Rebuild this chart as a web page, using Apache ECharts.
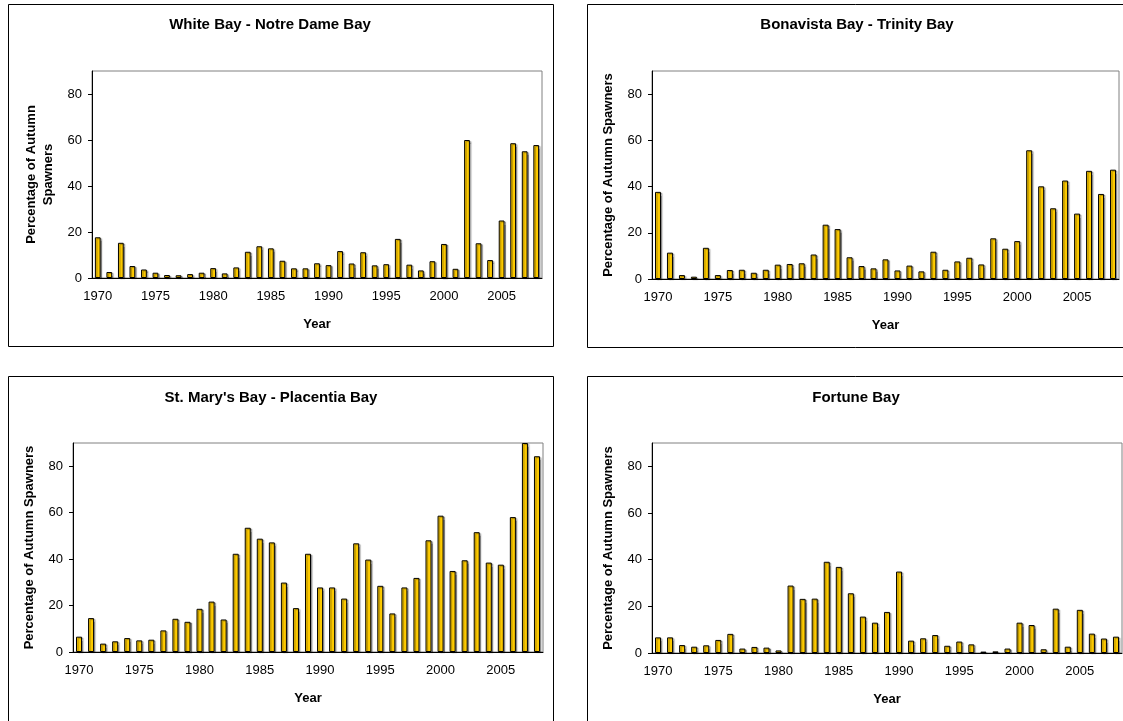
<!DOCTYPE html>
<html>
<head>
<meta charset="utf-8">
<title>Autumn Spawners</title>
<script src="https://cdn.jsdelivr.net/npm/echarts@6/dist/echarts.min.js"></script>
<style>
  html, body { margin: 0; padding: 0; background: #fff; }
  #chart { width: 1123px; height: 721px; }
</style>
</head>
<body>
<div id="chart"></div>
<script>
// years 1970 - 2008
var years = [];
for (var y = 1970; y <= 2008; y++) years.push(String(y));

var yTicks = [0, 20, 40, 60, 80];

var whiteBay = [17.7, 2.6, 15.3, 5.2, 3.7, 2.3, 1.3, 1.2, 1.7, 2.3,
  4.3, 2.0, 4.6, 11.4, 13.8, 12.9, 7.5, 4.2, 4.2, 6.4,
  5.6, 11.7, 6.3, 11.2, 5.5, 6.0, 17.0, 5.8, 3.3, 7.3,
  14.8, 4.0, 60.0, 15.1, 7.8, 25.0, 58.6, 55.1, 57.8];

var bonavista = [37.7, 11.4, 1.7, 1.0, 13.5, 1.7, 3.9, 4.0, 2.7, 4.0,
  6.2, 6.5, 6.8, 10.6, 23.5, 21.6, 9.4, 5.6, 4.6, 8.5,
  3.7, 5.8, 3.3, 11.8, 4.0, 7.6, 9.2, 6.3, 17.6, 13.1,
  16.4, 55.7, 40.1, 30.6, 42.6, 28.3, 46.8, 36.8, 47.3];

var stMarys = [6.6, 14.6, 3.6, 4.6, 6.0, 5.0, 5.3, 9.3, 14.3, 13.0,
  18.6, 21.7, 14.0, 42.3, 53.5, 48.8, 47.2, 29.9, 18.9, 42.3,
  27.8, 27.8, 23.0, 46.8, 39.8, 28.5, 16.6, 27.8, 31.9, 48.1,
  58.7, 34.9, 39.5, 51.6, 38.5, 37.6, 58.1, 90, 84.3];

var fortune = [6.7, 6.7, 3.4, 2.7, 3.3, 5.6, 8.2, 1.9, 2.6, 2.3,
  1.1, 28.9, 23.2, 23.3, 39.1, 36.9, 25.6, 15.6, 13.0, 17.6,
  34.9, 5.3, 6.3, 7.7, 3.1, 4.9, 3.7, 0.6, 0.7, 1.9,
  13.0, 12.0, 1.6, 19.0, 2.7, 18.5, 8.3, 6.2, 7.0];

var panels = [
  { title: 'White Bay - Notre Dame Bay', data: whiteBay, yName: 'Percentage of Autumn\nSpawners',
    grid: { left: 92, top: 71, width: 450, height: 207 }, box: [8, 4, 545, 342], tx: 270, ty: 25 },
  { title: 'Bonavista Bay - Trinity Bay', data: bonavista, yName: 'Percentage of Autumn Spawners',
    grid: { left: 652, top: 71, width: 467, height: 208 }, box: [587, 4, 548, 343], tx: 857, ty: 25 },
  { title: "St. Mary's Bay - Placentia Bay", data: stMarys, yName: 'Percentage of Autumn Spawners',
    grid: { left: 73, top: 443, width: 470, height: 209 }, box: [8, 376, 545, 360], tx: 271, ty: 398 },
  { title: 'Fortune Bay', data: fortune, yName: 'Percentage of Autumn Spawners',
    grid: { left: 652, top: 443, width: 470, height: 210 }, box: [587, 376, 548, 360], tx: 856, ty: 398 }
];

var font = '"Liberation Sans", Arial, sans-serif';

var grids = [], xAxes = [], yAxes = [], series = [], graphics = [];
panels.forEach(function (p, i) {
  // panel frame + title
  graphics.push({
    type: 'rect', silent: true,
    shape: { x: p.box[0] + 0.5, y: p.box[1] + 0.5, width: p.box[2], height: p.box[3] },
    style: { fill: 'none', stroke: '#000', lineWidth: 1 }
  });
  graphics.push({
    type: 'text', silent: true, x: p.tx, y: p.ty,
    style: { text: p.title, fontFamily: font, fontSize: 15, fontWeight: 'bold', fill: '#000',
      textAlign: 'center', textVerticalAlign: 'middle' }
  });

  grids.push(Object.assign({ show: true, borderColor: '#808080', borderWidth: 1 }, p.grid));

  xAxes.push({
    type: 'category', gridIndex: i, data: years,
    name: 'Year', nameLocation: 'middle', nameGap: 40,
    nameTextStyle: { fontFamily: font, fontSize: 13, fontWeight: 'bold', color: '#000' },
    axisLine: { lineStyle: { color: '#000', width: 1 } },
    axisTick: { inside: true, length: 3, interval: 0, lineStyle: { color: '#000' } },
    axisLabel: { interval: 4, margin: 12, fontFamily: font, fontSize: 13, color: '#000' }
  });

  yAxes.push({
    type: 'value', gridIndex: i, min: 0, max: 90,
    name: p.yName, nameLocation: 'middle', nameGap: 35,
    nameTextStyle: { fontFamily: font, fontSize: 13, fontWeight: 'bold', color: '#000', lineHeight: 17 },
    axisLine: { show: true, lineStyle: { color: '#000', width: 1 } },
    axisTick: { show: true, length: 4, customValues: yTicks, lineStyle: { color: '#000' } },
    axisLabel: { customValues: yTicks, margin: 10, fontFamily: font, fontSize: 13, color: '#000' },
    splitLine: { show: false }
  });

  series.push({
    type: 'bar', xAxisIndex: i, yAxisIndex: i, data: p.data,
    barWidth: '50%',
    itemStyle: {
      color: '#FFCC00', borderColor: '#000', borderWidth: 1,
      shadowColor: 'rgba(0,0,0,0.35)', shadowOffsetX: 1.5, shadowOffsetY: 1, shadowBlur: 1
    },
    silent: true
  });
});

var chart = echarts.init(document.getElementById('chart'), null, { renderer: 'canvas' });
chart.setOption({
  animation: false,
  backgroundColor: '#fff',
  grid: grids,
  xAxis: xAxes,
  yAxis: yAxes,
  series: series,
  graphic: graphics
});
</script>
</body>
</html>
